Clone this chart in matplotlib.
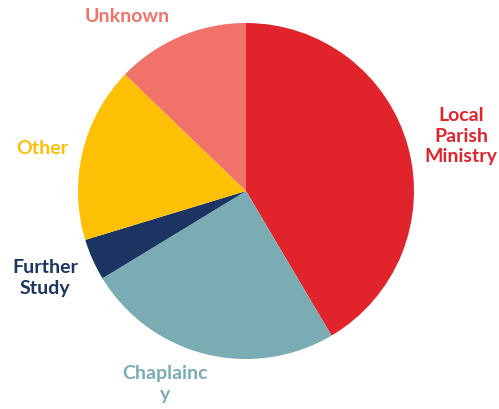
import matplotlib.pyplot as plt

# slice data, clockwise from 12 o'clock
categories = ['Local\nParish\nMinistry', 'Chaplainc\ny', 'Further\nStudy', 'Other', 'Unknown']
shares = [41.5, 24.8, 4.0, 16.9, 12.8]
colors = ['#E1242C', '#7BACB3', '#1B3461', '#FDC004', '#F17269']

# where each label sits (pixels from top-left)
label_pos = [(461, 136), (165, 384), (45, 278), (42, 149), (127, 17)]

fig = plt.figure(figsize=(4.99, 4.09), dpi=100)
ax = fig.add_axes([0, 0, 1, 1])
H = 409

ax.pie(shares, colors=colors, startangle=90, counterclock=False,
       center=(246, H - 191), radius=168,
       wedgeprops={'linewidth': 0})

for lab, (x, y), c in zip(categories, label_pos, colors):
    ax.text(x, H - y, lab, color=c, fontsize=14, fontweight='bold',
            family='Lato', ha='center', va='center', linespacing=1.22)

ax.set_xlim(0, 499)
ax.set_ylim(0, H)
ax.set_aspect('equal')
ax.axis('off')

fig.savefig('out.png', dpi=100, facecolor='white')
